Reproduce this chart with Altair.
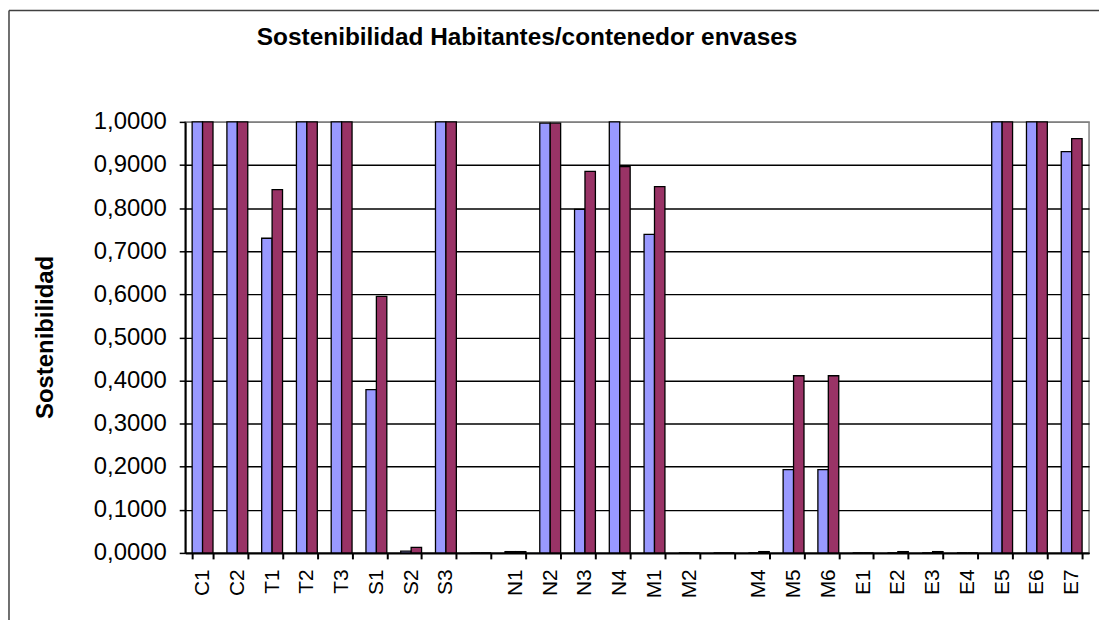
import altair as alt
import pandas as pd

categories = ["C1", "C2", "T1", "T2", "T3", "S1", "S2", "S3", " ",
              "N1", "N2", "N3", "N4", "M1", "M2", "  ",
              "M4", "M5", "M6", "E1", "E2", "E3", "E4", "E5", "E6", "E7"]
serie1 = [1.0, 1.0, 0.730, 1.0, 1.0, 0.379, 0.004, 1.0, 0.0,
          0.003, 0.997, 0.797, 1.0, 0.739, 0.0, 0.0,
          0.0, 0.193, 0.193, 0.0, 0.0, 0.0, 0.0, 1.0, 1.0, 0.931]
serie2 = [1.0, 1.0, 0.843, 1.0, 1.0, 0.595, 0.013, 1.0, 0.0,
          0.003, 0.997, 0.885, 0.896, 0.850, 0.0, 0.0,
          0.003, 0.411, 0.411, 0.0, 0.003, 0.003, 0.0, 1.0, 1.0, 0.961]
series_names = ["Serie1", "Serie2"]
series_colors = ["#9999FF", "#993366"]
y_ticks = [0.0, 0.1, 0.2, 0.3, 0.4, 0.5, 0.6, 0.7, 0.8, 0.9, 1.0]
chart_title = "Sostenibilidad Habitantes/contenedor envases"

rows = []
for c, a, b in zip(categories, serie1, serie2):
    rows.append({"cat": c, "serie": series_names[0], "value": a})
    rows.append({"cat": c, "serie": series_names[1], "value": b})
df = pd.DataFrame(rows)
title_df = pd.DataFrame({"t": [chart_title]})

FONT = "Liberation Sans"
W, H = 908, 433

bars = alt.Chart(df).mark_bar(stroke="black", strokeWidth=1.3).encode(
    x=alt.X("cat:N", sort=categories,
            scale=alt.Scale(domain=categories, paddingInner=0.4, paddingOuter=0.2),
            axis=alt.Axis(title=None, labelAngle=270, labelFontSize=21, labelFont=FONT,
                          labelColor="black", tickBand="extent", tickSize=6,
                          tickWidth=2, tickColor="black", labelPadding=10,
                          domainColor="black", domainWidth=2, grid=False)),
    xOffset=alt.XOffset("serie:N", sort=series_names),
    y=alt.Y("value:Q",
            scale=alt.Scale(domain=[0, 1], nice=False),
            axis=alt.Axis(values=y_ticks,
                          labelExpr="replace(format(datum.value, '.4f'), '.', ',')",
                          labelFontSize=24, labelFont=FONT, labelColor="black",
                          tickSize=6, tickWidth=1.5, tickColor="black", labelPadding=13,
                          domainColor="black", domainWidth=2,
                          grid=True,
                          gridColor={"condition": {"test": "datum.value === 1", "value": "#808080"},
                                     "value": "black"},
                          gridWidth=1.4,
                          title="Sostenibilidad", titleFont=FONT, titleFontSize=24,
                          titleFontWeight="bold", titleColor="black",
                          titleAngle=270, titleX=-140, titleY=216,
                          titleAlign="center", titleBaseline="middle")),
    color=alt.Color("serie:N", scale=alt.Scale(domain=series_names, range=series_colors),
                    legend=None),
)

title_text = alt.Chart(title_df).mark_text(
    font=FONT, fontSize=24.5, fontWeight="bold", color="black",
    align="left", baseline="alphabetic").encode(
    text="t:N", x=alt.value(72), y=alt.value(-77))

frame_left = alt.Chart(title_df).mark_rule(color="#404040", strokeWidth=1.5).encode(
    x=alt.value(-177), y=alt.value(-112), y2=alt.value(H + 70))
frame_top = alt.Chart(title_df).mark_rule(color="#404040", strokeWidth=1.5).encode(
    x=alt.value(-177), x2=alt.value(W + 20), y=alt.value(-112))

chart = alt.layer(bars, title_text, frame_left, frame_top).properties(
    width=W, height=H,
    autosize=alt.AutoSizeParams(type="none"),
    padding={"left": 178, "top": 113, "right": 10, "bottom": 66},
).configure_view(stroke="#808080", strokeWidth=1.5)

chart.save("out.html", embed_options={"renderer": "svg", "actions": False})
